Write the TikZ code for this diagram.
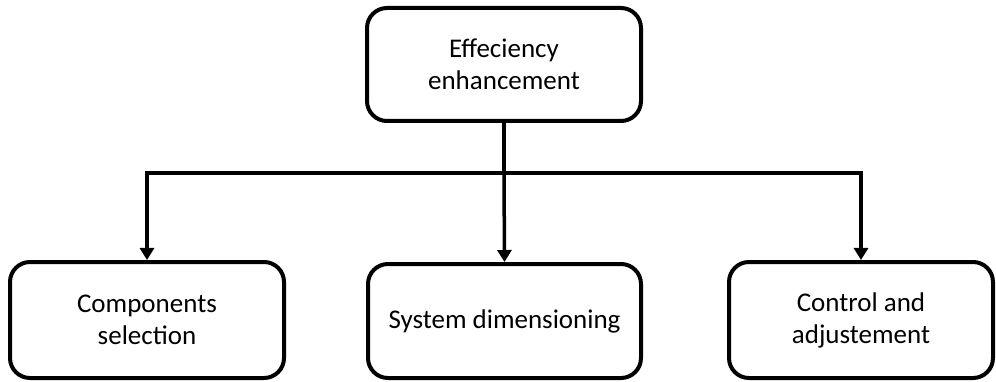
\documentclass[tikz,border=0pt]{standalone}
\usepackage{fontspec}
\setmainfont{Carlito}
\usetikzlibrary{arrows.meta}
\begin{document}
\begin{tikzpicture}[x=1pt,y=1pt,
  box/.style={draw=black, line width=4pt, rounded corners=20pt, fill=white,
    align=center, inner sep=0pt, font=\fontsize{27}{32}\selectfont},
  link/.style={line width=3.5pt, -{Triangle[width=14pt,length=12pt]}},
  trunk/.style={line width=3.5pt}]
\useasboundingbox[fill=white] (0,0) rectangle (996,-382);
\node[box, minimum width=274pt, minimum height=113pt] (top) at (504,-64.5) {Effeciency\\enhancement};
\node[box, minimum width=274pt, minimum height=116pt] (left) at (147,-320) {Components\\selection};
\node[box, minimum width=273pt, minimum height=114pt] (mid) at (504.5,-321) {System dimensioning};
\node[box, minimum width=264pt, minimum height=116pt] (right) at (861,-320) {Control and\\adjustement};
\coordinate (hub) at (504,-173);
\draw[trunk] (top.south) -- (hub);
\draw[link] (hub) -| (left.north);
\draw[link] (hub) -- (mid.north);
\draw[link] (hub) -| (right.north);
\end{tikzpicture}
\end{document}
